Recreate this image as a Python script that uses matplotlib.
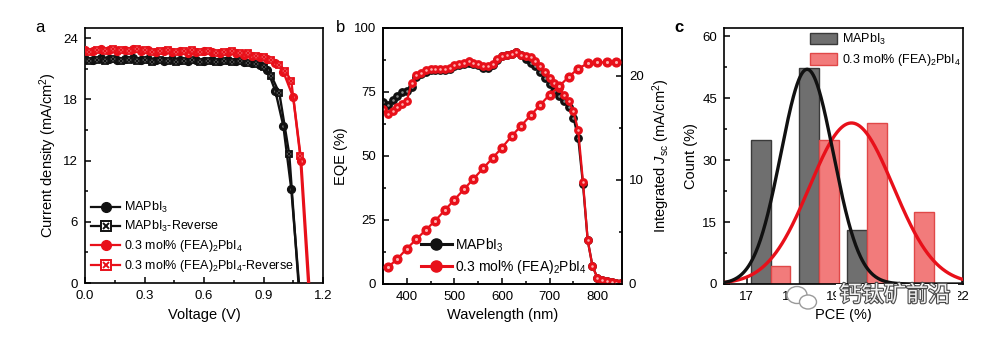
import matplotlib.pyplot as plt
import matplotlib.patheffects as pe
from matplotlib.patches import Ellipse, Rectangle
from matplotlib.ticker import MultipleLocator, FixedFormatter, FixedLocator
import numpy as np

plt.rcParams['font.family'] = ['Liberation Sans', 'DejaVu Sans']
plt.rcParams['mathtext.fontset'] = 'custom'
plt.rcParams['mathtext.rm'] = 'Liberation Sans'
plt.rcParams['mathtext.it'] = 'Liberation Sans:italic'
plt.rcParams['mathtext.default'] = 'regular'
plt.rcParams['axes.linewidth'] = 1.2

BLACK = '#111111'
RED = '#e8101a'

# ---- (a) J-V curves
v_ctrl_fwd = [0.00, 0.04, 0.08, 0.12, 0.16, 0.20, 0.24, 0.28, 0.32, 0.36, 0.40, 0.44,
              0.48, 0.52, 0.56, 0.60, 0.64, 0.68, 0.72, 0.76, 0.80, 0.84, 0.88, 0.92,
              0.96, 1.00, 1.04, 1.085]
j_ctrl_fwd = [22.0, 21.9, 22.1, 22.0, 21.9, 22.0, 22.1, 21.9, 22.0, 21.9, 21.8, 22.0,
              21.9, 21.8, 21.9, 21.8, 21.9, 21.8, 21.9, 21.8, 21.7, 21.6, 21.4, 20.9,
              18.8, 15.4, 9.2, -1.5]
v_ctrl_rev = [0.02, 0.06, 0.10, 0.14, 0.18, 0.22, 0.26, 0.30, 0.34, 0.38, 0.42, 0.46,
              0.50, 0.54, 0.58, 0.62, 0.66, 0.70, 0.74, 0.78, 0.82, 0.86, 0.90, 0.94,
              0.98, 1.03, 1.08]
j_ctrl_rev = [21.8, 21.9, 21.8, 22.0, 21.8, 21.9, 21.8, 21.9, 21.7, 21.9, 21.8, 21.7,
              21.8, 21.9, 21.7, 21.8, 21.7, 21.8, 21.7, 21.8, 21.6, 21.5, 21.2, 20.3,
              18.6, 12.6, -1.0]
v_fea_fwd = [0.00, 0.04, 0.08, 0.12, 0.16, 0.20, 0.24, 0.28, 0.32, 0.36, 0.40, 0.44,
             0.48, 0.52, 0.56, 0.60, 0.64, 0.68, 0.72, 0.76, 0.80, 0.84, 0.88, 0.92,
             0.96, 1.00, 1.05, 1.09, 1.135]
j_fea_fwd = [22.8, 22.7, 22.9, 22.8, 22.7, 22.8, 22.9, 22.7, 22.8, 22.6, 22.7, 22.6,
             22.7, 22.5, 22.6, 22.7, 22.6, 22.5, 22.6, 22.5, 22.4, 22.3, 22.2, 22.0,
             21.6, 20.7, 18.2, 12.0, -1.5]
v_fea_rev = [0.02, 0.06, 0.10, 0.14, 0.18, 0.22, 0.26, 0.30, 0.34, 0.38, 0.42, 0.46,
             0.50, 0.54, 0.58, 0.62, 0.66, 0.70, 0.74, 0.78, 0.82, 0.86, 0.90, 0.94,
             0.98, 1.01, 1.04, 1.085, 1.13]
j_fea_rev = [22.6, 22.8, 22.7, 22.9, 22.8, 22.7, 22.9, 22.8, 22.6, 22.7, 22.8, 22.6,
             22.7, 22.8, 22.6, 22.7, 22.5, 22.6, 22.7, 22.5, 22.5, 22.3, 22.2, 21.9,
             21.4, 20.8, 19.8, 12.5, -1.5]

# ---- (b) EQE and integrated Jsc
wavelength = [350, 360, 370, 380, 390, 400, 410, 420, 430, 440, 450, 460, 470, 480,
              490, 500, 510, 520, 530, 540, 550, 560, 570, 580, 590, 600, 610, 620,
              630, 640, 650, 660, 670, 680, 690, 700, 710, 720, 730, 740, 750, 760,
              770, 780, 790, 800, 810, 820, 830, 840, 850]
eqe_ctrl = [71.0, 70.0, 72.0, 73.5, 75.0, 75.5, 77.0, 81.0, 82.0, 83.0, 83.5, 83.5,
            83.5, 83.5, 84.0, 85.0, 85.5, 86.0, 86.5, 86.0, 85.5, 84.5, 84.5, 85.5,
            87.5, 89.0, 89.5, 90.0, 90.5, 89.5, 88.0, 86.5, 85.0, 83.0, 80.5, 78.0,
            75.5, 73.5, 71.5, 69.0, 65.0, 57.0, 39.0, 17.0, 7.0, 2.5, 1.5, 1.0, 0.8,
            0.5, 0.5]
eqe_fea = [68.5, 66.5, 67.5, 69.0, 70.5, 71.5, 78.5, 81.5, 82.5, 83.5, 84.0, 84.0,
           84.0, 84.0, 84.5, 85.5, 86.0, 86.5, 87.0, 86.5, 86.0, 85.0, 85.0, 86.0,
           88.0, 89.0, 89.5, 90.0, 90.5, 89.5, 89.0, 88.5, 87.0, 85.0, 83.0, 80.5,
           78.5, 76.5, 74.0, 71.5, 67.5, 60.0, 40.0, 17.0, 7.0, 2.5, 1.5, 1.0, 0.8,
           0.5, 0.5]
wl_jsc = [360, 380, 400, 420, 440, 460, 480, 500, 520, 540, 560, 580, 600, 620, 640,
          660, 680, 700, 720, 740, 760, 780, 800, 820, 840]
jsc_fea = [1.6, 2.4, 3.4, 4.3, 5.2, 6.1, 7.1, 8.1, 9.1, 10.1, 11.1, 12.1, 13.1, 14.2,
           15.2, 16.2, 17.2, 18.2, 19.0, 19.9, 20.7, 21.2, 21.3, 21.3, 21.3]

# ---- (c) PCE statistics
pce_ctrl = [17.33, 18.44, 19.56]
count_ctrl = [34.8, 52.2, 13.0]
pce_fea = [17.78, 18.91, 20.02, 21.12]
count_fea = [4.3, 34.8, 39.1, 17.4]
fit_ctrl = dict(mu=18.40, sigma=0.61, peak=52.0)
fit_fea = dict(mu=19.43, sigma=0.97, peak=39.0)
pce_ticks = [17, 18, 19, 20, 21, 22]
pce_ticklabels = ['17', '18', '19', '', '', '22']

lbl_ctrl = 'MAPbI$_3$'
lbl_fea = '0.3 mol% (FEA)$_2$PbI$_4$'

W, H = 984, 339
fig = plt.figure(figsize=(W / 100, H / 100), dpi=100)


def px_axes(left, top, right, bottom):
    return fig.add_axes([left / W, 1 - bottom / H, (right - left) / W, (bottom - top) / H])


def style(ax, right=False):
    ax.tick_params(which='both', direction='in', labelsize=9.5, width=1.1,
                   top=False, right=right, pad=5)
    ax.tick_params(which='major', length=4)
    ax.tick_params(which='minor', length=2.5)


def sphere(ax, x, y, color, hi, ms, lw, zorder, label=None):
    ax.plot(x, y, color=color, lw=lw, marker='o', ms=ms, mec=color, mfc=color,
            zorder=zorder, label=label)
    ax.plot(x, y, ls='none', marker='o', ms=ms * 0.35, mfc=hi, mec='none', zorder=zorder)


def boxed(ax, x, y, color, ms, lw, zorder):
    ax.plot(x, y, color=color, lw=lw, marker='s', ms=ms, mfc='white', mec=color,
            mew=1.3, zorder=zorder)
    ax.plot(x, y, ls='none', marker='x', ms=ms * 0.8, mec=color, mew=1.3, zorder=zorder)


# panel a
ax1 = px_axes(85, 28, 323, 283)
sphere(ax1, v_ctrl_fwd, j_ctrl_fwd, BLACK, '#777777', 5.6, 1.7, 3)
boxed(ax1, v_ctrl_rev, j_ctrl_rev, BLACK, 5.0, 1.7, 3)
sphere(ax1, v_fea_fwd, j_fea_fwd, RED, '#ff9a9a', 5.6, 1.7, 4)
boxed(ax1, v_fea_rev, j_fea_rev, RED, 5.0, 1.7, 4)
ax1.set_xlim(0, 1.2)
ax1.set_ylim(0, 25)
ax1.xaxis.set_major_locator(MultipleLocator(0.3))
ax1.xaxis.set_minor_locator(MultipleLocator(0.15))
ax1.yaxis.set_major_locator(MultipleLocator(6))
ax1.yaxis.set_minor_locator(MultipleLocator(3))
ax1.xaxis.set_major_formatter(plt.FormatStrFormatter('%.1f'))
style(ax1)
ax1.set_xlabel('Voltage (V)', fontsize=10.5, labelpad=4)
ax1.set_ylabel('Current density (mA/cm$^2$)', fontsize=10.5, labelpad=3)

h1 = ax1.plot([], [], color=BLACK, lw=1.6, marker='o', ms=7)[0]
h2 = (ax1.plot([], [], color=BLACK, lw=1.6, marker='s', ms=6.5, mfc='white', mec=BLACK, mew=1.4)[0],
      ax1.plot([], [], ls='none', marker='x', ms=5, mec=BLACK, mew=1.4)[0])
h3 = ax1.plot([], [], color=RED, lw=1.6, marker='o', ms=7)[0]
h4 = (ax1.plot([], [], color=RED, lw=1.6, marker='s', ms=6.5, mfc='white', mec=RED, mew=1.4)[0],
      ax1.plot([], [], ls='none', marker='x', ms=5, mec=RED, mew=1.4)[0])
ax1.legend([h1, h2, h3, h4],
           [lbl_ctrl, lbl_ctrl + '-Reverse', lbl_fea, lbl_fea + '-Reverse'],
           loc='lower left', bbox_to_anchor=(-0.01, 0.0), frameon=False, fontsize=9,
           handlelength=2.3, handletextpad=0.3, labelspacing=0.32, borderaxespad=0.3)

# panel b
ax2 = px_axes(383, 28, 622, 284)
sphere(ax2, wavelength, eqe_ctrl, BLACK, '#8a8a8a', 5.3, 1.6, 3)
sphere(ax2, wavelength, eqe_fea, RED, '#ffb0b0', 5.3, 1.6, 4)
ax2.set_xlim(350, 852)
ax2.set_ylim(0, 100)
ax2.xaxis.set_major_locator(MultipleLocator(100))
ax2.xaxis.set_minor_locator(MultipleLocator(50))
ax2.yaxis.set_major_locator(MultipleLocator(25))
ax2.yaxis.set_minor_locator(MultipleLocator(12.5))
style(ax2)
ax2.set_xlabel('Wavelength (nm)', fontsize=10.5, labelpad=4)
ax2.set_ylabel('EQE (%)', fontsize=10.5, labelpad=4)

ax2r = ax2.twinx()
sphere(ax2r, wl_jsc, jsc_fea, RED, '#ffb0b0', 6.3, 1.6, 4)
ax2r.set_ylim(0, 24.6)
ax2r.yaxis.set_major_locator(MultipleLocator(10))
ax2r.yaxis.set_minor_locator(MultipleLocator(5))
ax2r.tick_params(which='both', direction='in', labelsize=9.5, width=1.1, pad=5)
ax2r.tick_params(which='major', length=4)
ax2r.tick_params(which='minor', length=2.5)
ax2r.set_ylabel('Integrated $\\mathit{J}_{sc}$ (mA/cm$^2$)', fontsize=10.5, labelpad=5)

hb1 = ax2.plot([], [], color=BLACK, lw=2.2, marker='o', ms=8)[0]
hb2 = ax2.plot([], [], color=RED, lw=2.2, marker='o', ms=8)[0]
ax2r.legend([hb1, hb2], [lbl_ctrl, lbl_fea], loc='lower left',
            bbox_to_anchor=(0.125, 0.0), frameon=False, fontsize=10,
            handlelength=2.2, handletextpad=0.2, labelspacing=0.3, borderaxespad=0.2)

# panel c
ax3 = px_axes(724, 28, 963, 284)
ax3.bar(pce_ctrl, count_ctrl, width=0.46, color='#6f6f6f', edgecolor='#3a3a3a',
        lw=1.0, label=lbl_ctrl, zorder=2)
ax3.bar(pce_fea, count_fea, width=0.46, color='#f27b7b', edgecolor='#e04848',
        lw=1.0, label=lbl_fea, zorder=2)
xs = np.linspace(16.47, 22.02, 400)
for fit, col in ((fit_fea, RED), (fit_ctrl, BLACK)):
    ax3.plot(xs, fit['peak'] * np.exp(-(xs - fit['mu']) ** 2 / (2 * fit['sigma'] ** 2)),
             color=col, lw=2.4, zorder=3)
ax3.set_xlim(16.47, 22.02)
ax3.set_ylim(0, 62)
ax3.xaxis.set_major_locator(FixedLocator(pce_ticks))
ax3.xaxis.set_major_formatter(FixedFormatter(pce_ticklabels))
ax3.yaxis.set_major_locator(MultipleLocator(15))
ax3.yaxis.set_minor_locator(MultipleLocator(7.5))
style(ax3)
ax3.set_xlabel('PCE (%)', fontsize=10.5, labelpad=4)
ax3.set_ylabel('Count (%)', fontsize=10.5, labelpad=3)
ax3.legend(loc='upper right', bbox_to_anchor=(1.04, 1.03), frameon=False, fontsize=9,
           handlelength=2.2, handleheight=1.0, handletextpad=0.4, labelspacing=0.45)

# panel letters
fig.text(40 / W, 1 - 28 / H, 'a', fontsize=12, va='center', ha='center')
fig.text(341 / W, 1 - 28 / H, 'b', fontsize=12, va='center', ha='center')
fig.text(679 / W, 1 - 27 / H, 'c', fontsize=12, va='center', ha='center', fontweight='bold')

# watermark over the PCE tick labels
fig.add_artist(Rectangle((836 / W, 1 - 309 / H), 122 / W, 25 / H, transform=fig.transFigure,
                         facecolor='white', edgecolor='none', zorder=10))
fig.add_artist(Ellipse((797 / W, 1 - 295 / H), 20 / W, 17 / H, transform=fig.transFigure,
                       facecolor='white', edgecolor='#9a9a9a', lw=1.0, zorder=11))
fig.add_artist(Ellipse((808 / W, 1 - 302 / H), 17 / W, 14 / H, transform=fig.transFigure,
                       facecolor='white', edgecolor='#9a9a9a', lw=1.0, zorder=12))
fig.text(895 / W, 1 - 295 / H, '钙钛矿前沿', fontsize=16, ha='center', va='center',
         family=['Noto Sans CJK SC', 'DejaVu Sans'], color='#f2f2f2', zorder=13,
         path_effects=[pe.withStroke(linewidth=1.6, foreground='#4a4a4a')])

fig.savefig('out.png', dpi=100)
